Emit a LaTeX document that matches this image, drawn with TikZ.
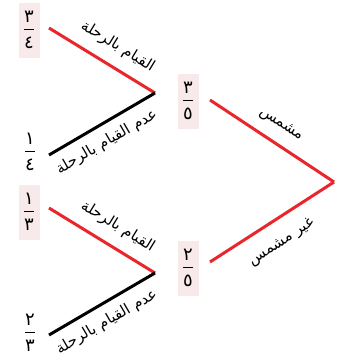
\documentclass[tikz,border=0pt]{standalone}
\usepackage{fontspec}
\newfontfamily\ar[Script=Arabic]{DejaVu Sans}
\TeXXeTstate=1
\definecolor{treered}{HTML}{E8262B}
\definecolor{boxpink}{HTML}{F8EAEA}
\newcommand{\arfrac}[2]{\vbox{\offinterlineskip\hbox to 16pt{\hss\ar #1\hss}\kern6.5pt\hbox to 16pt{\hss\vrule width 10pt height 1.1pt\hss}\kern7pt\hbox to 16pt{\hss\ar #2\hss}}}
\tikzset{
  fracbox/.style={fill=boxpink, minimum width=21pt, minimum height=55pt, inner sep=0pt, font=\fontsize{18}{20}\selectfont},
  fracplain/.style={inner sep=0pt, font=\fontsize{18}{20}\selectfont},
  redline/.style={draw=treered, line width=3pt},
  blackline/.style={draw=black, line width=3pt},
  lbl/.style={sloped, inner sep=1pt, font=\fontsize{15}{17}\selectfont\ar}
}
\begin{document}
\begin{tikzpicture}[x=1pt,y=-1pt]
\useasboundingbox (0,0) rectangle (337,362);
% fractions
\node[fracbox] (f34) at (29,30) {\arfrac{٣}{٤}};
\node[fracplain] (f14) at (30,152) {\arfrac{١}{٤}};
\node[fracbox] (f13) at (29,212) {\arfrac{١}{٣}};
\node[fracplain] (f23) at (30,333) {\arfrac{٢}{٣}};
\node[fracbox] (f35) at (188,101) {\arfrac{٣}{٥}};
\node[fracbox] (f25) at (188,268) {\arfrac{٢}{٥}};
% branch points
\coordinate (a1) at (49,28);
\coordinate (a2) at (49,155);
\coordinate (a) at (155,93);
\coordinate (b1) at (49,208);
\coordinate (b2) at (49,335);
\coordinate (b) at (155,273);
\coordinate (c1) at (210,100);
\coordinate (c2) at (210,262);
\coordinate (c) at (334,182);
% top-left tree
\draw[redline] (a1) -- node[lbl, above=10pt, pos=0.55] {\beginR القيام بالرحلة\endR} (a);
\draw[blackline] (a2) -- node[lbl, below=8pt, pos=0.46] {\beginR عدم القيام بالرحلة\endR} (a);
% bottom-left tree
\draw[redline] (b1) -- node[lbl, above=10pt, pos=0.55] {\beginR القيام بالرحلة\endR} (b);
\draw[blackline] (b2) -- node[lbl, below=8pt, pos=0.46] {\beginR عدم القيام بالرحلة\endR} (b);
% right tree
\draw[redline] (c1) -- node[lbl, above=10pt, pos=0.49] {\beginR مشمس\endR} (c);
\draw[redline] (c2) -- node[lbl, below=13pt, pos=0.48] {\beginR غير مشمس\endR} (c);
\end{tikzpicture}
\end{document}
